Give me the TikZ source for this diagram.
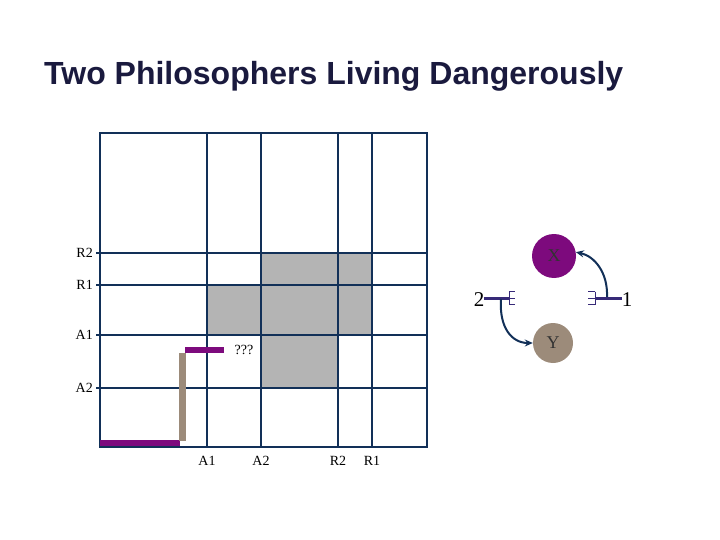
\documentclass[tikz,border=0pt]{standalone}
\usepackage{fontspec}
\setmainfont{Liberation Serif}
\setsansfont{Liberation Sans}
\usetikzlibrary{arrows.meta}
\definecolor{gridblue}{RGB}{18,48,88}
\definecolor{titleblue}{RGB}{26,26,62}
\definecolor{lockpurple}{RGB}{125,10,125}
\definecolor{lockbrown}{RGB}{156,139,122}
\definecolor{regiongray}{RGB}{180,180,180}
\definecolor{forkblue}{RGB}{55,42,120}

\begin{document}
\begin{tikzpicture}[x=1pt,y=-1pt,
  gline/.style={gridblue,line width=2pt},
  lbl/.style={font=\fontsize{14}{14}\selectfont,inner sep=0pt},
  res/.style={circle,minimum size=#1,inner sep=0pt,text=black!80,font=\fontsize{18}{18}\selectfont},
  num/.style={font=\fontsize{21}{21}\selectfont,inner sep=0pt},
  lockbar/.style={line width=6pt},
  forkbar/.style={forkblue,line width=3pt},
  fork/.style={forkblue,line width=0.9pt},
  arm/.style={-{Stealth[length=8pt,width=7pt]},gridblue,line width=2pt}]
\useasboundingbox (0,0) rectangle (720,540);

\node[anchor=base west,inner sep=0pt,text=titleblue,
  font=\sffamily\bfseries\fontsize{32}{32}\selectfont] (title) at (44,85)
  {Two Philosophers Living Dangerously};

% unsafe region
\fill[regiongray] (261,253) rectangle (372,335);
\fill[regiongray] (207,285) rectangle (261,335);
\fill[regiongray] (261,335) rectangle (338,388);

% grid
\draw[gline] (100,133) rectangle (427,447);
\foreach \x in {207,261,338,372}
  \draw[gline] (\x,133) -- (\x,447);
\foreach \y in {253,285,335,388}
  \draw[gline] (96,\y) -- (427,\y);

\foreach \y/\t in {253/R2,285/R1,335/A1,388/A2}
  \node[lbl,anchor=east] (l\t) at (93,\y) {\t};
\foreach \x/\t in {207/A1,261/A2,338/R2,372/R1}
  \node[lbl] (b\t) at (\x,461) {\t};

% trajectory
\draw[lockbar,lockpurple] (100,443) -- (180,443);
\draw[lockbar,lockbrown,line width=7pt] (182,353) -- (182,441);
\draw[lockbar,lockpurple] (185,350) -- (224,350);
\node[lbl] (q) at (244,350) {???};

% resources and processes
\node[res=44pt,fill=lockpurple] (X) at (554,256) {X};
\node[res=40pt,fill=lockbrown] (Y) at (553,343) {Y};
\node[num] (two) at (479,300) {2};
\node[num] (one) at (627,300) {1};
\coordinate (f2) at (509,298);
\coordinate (f1) at (595,298);
\coordinate (s2) at (501,299);
\coordinate (s1) at (607,297);

\draw[forkbar] (f2 -| two.east) -- (f2);
\draw[forkbar] (f1) -- (f1 -| one.west);
\draw[fork] (f2) +(0,-6.5) -- +(0,6.5) +(0,-6.5) -- +(6,-6.5)
  +(0,0) -- +(6,0) +(0,6.5) -- +(6,6.5);
\draw[fork] (f1) +(0,-6.5) -- +(0,6.5) +(0,-6.5) -- +(-7,-6.5)
  +(0,0) -- +(-7,0) +(0,6.5) -- +(-7,6.5);

\draw[arm] (s2) .. controls (499,328) and (512,343) .. (Y.west);
\draw[arm] (s1) .. controls (608,272) and (594,256) .. (X.10);
\end{tikzpicture}
\end{document}
